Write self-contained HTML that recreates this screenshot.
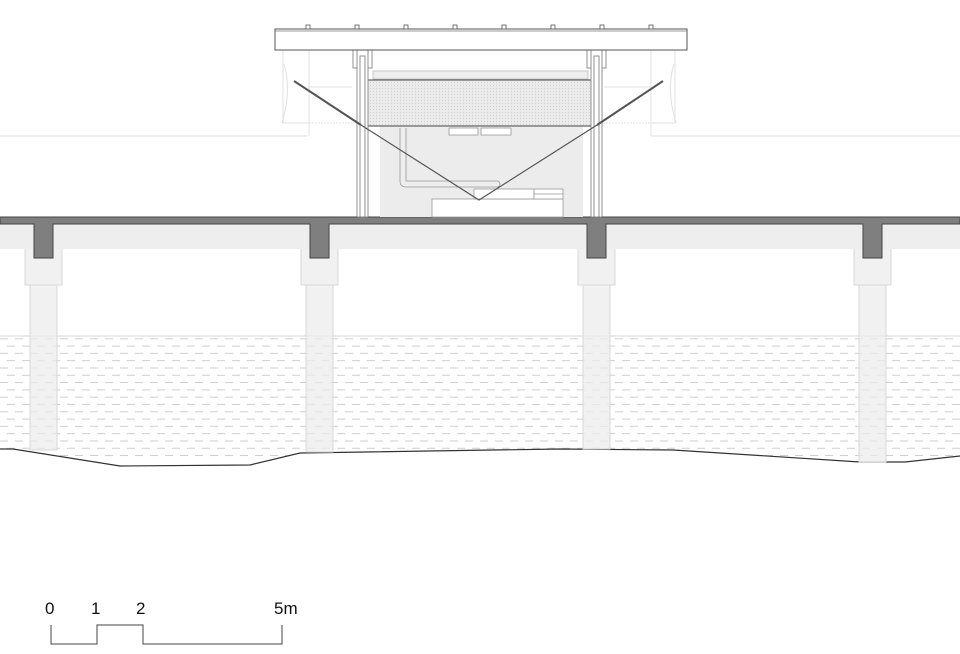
<!DOCTYPE html>
<html><head><style>html,body{margin:0;padding:0;background:#fff}svg{display:block}</style></head>
<body>
<svg width="960" height="654" viewBox="0 0 960 654" xmlns="http://www.w3.org/2000/svg" font-family="Liberation Sans, sans-serif">
<defs>
<pattern id="dash" x="0" y="0" width="15" height="14.6" patternUnits="userSpaceOnUse">
<line x1="0" y1="3" x2="8" y2="3" stroke="#c8c8c8" stroke-width="0.9"/>
<line x1="7" y1="10.3" x2="15" y2="10.3" stroke="#c8c8c8" stroke-width="0.9"/>
</pattern>
<pattern id="mesh" width="3" height="3" patternUnits="userSpaceOnUse">
<rect width="3" height="3" fill="#ececec"/><circle cx="1.5" cy="1.5" r="0.6" fill="#cfcfcf"/>
</pattern>
</defs>
<!-- horizon line -->
<line x1="0" y1="136" x2="307" y2="136" stroke="#ddd" stroke-width="1"/>
<line x1="651" y1="136" x2="960" y2="136" stroke="#ddd" stroke-width="1"/>
<!-- ghost shapes -->
<g stroke="#e0e0e0" fill="none" stroke-width="1">
<path d="M283 50 V123 H309 M309 50 V136 M284 64 Q292 90 282 123"/>
<line x1="282" y1="123" x2="360" y2="123" stroke-dasharray="2 1"/>
<path d="M675 50 V123 H651 M651 50 V136 M674 64 Q666 90 676 123"/>
<line x1="600" y1="123" x2="676" y2="123" stroke-dasharray="2 1"/>
<line x1="308" y1="87" x2="352" y2="87"/><line x1="604" y1="87" x2="651" y2="87"/>
</g>
<!-- water -->
<rect x="0" y="336" width="960" height="122" fill="url(#dash)"/>
<line x1="0" y1="336" x2="960" y2="336" stroke="#d5d5d5"/>
<!-- ground cover below ground line -->
<path d="M0 449 L13 449 L120 466 L250 465 L300 453 L560 449 L673 450 L860 462 L905 462 L960 456 L960 654 L0 654 Z" fill="#fff"/>
<path d="M0 449 L13 449 L120 466 L250 465 L300 453 L560 449 L673 450 L860 462 L905 462 L960 456" fill="none" stroke="#333" stroke-width="1.2"/>
<!-- piers -->
<g fill="#ececec" fill-opacity="0.75" stroke="#d8d8d8" stroke-width="1">
<rect x="30" y="285" width="27" height="165"/><rect x="25" y="248" width="37" height="37"/>
<rect x="306" y="285" width="27" height="167"/><rect x="301" y="248" width="37" height="37"/>
<rect x="583" y="285" width="27" height="164"/><rect x="578" y="248" width="37" height="37"/>
<rect x="859" y="285" width="27" height="177"/><rect x="854" y="248" width="37" height="37"/>
</g>
<!-- beam band -->
<rect x="0" y="224" width="960" height="25" fill="#eeeeee"/>
<!-- deck -->
<path d="M0 217 H960 V224 H882 V258 H863 V224 H606 V258 H587 V224 H329 V258 H310 V224 H53 V258 H34 V224 H0 Z" fill="#7f7f7f" stroke="#444" stroke-width="1"/>
<!-- pavilion interior -->
<rect x="380" y="126" width="203" height="91" fill="#ececec"/>
<g fill="#fff" stroke="#999" stroke-width="0.8">
<rect x="449" y="128" width="29" height="7"/><rect x="481" y="128" width="30" height="7"/>
<path d="M400 128 V181 Q400 187 406 187 H498 Q502 184 498 181 H406 V128" fill="#eee"/>
<rect x="432" y="199" width="131" height="18"/>
<rect x="474" y="189" width="60" height="10"/>
<rect x="534" y="189" width="29" height="10"/><line x1="534" y1="194" x2="563" y2="194"/>
</g>
<!-- light bar & mesh -->
<rect x="373" y="71" width="215" height="8" fill="#eee" stroke="#bbb" stroke-width="0.8"/>
<rect x="367" y="80" width="225" height="46" fill="url(#mesh)" stroke="#444" stroke-width="1"/>
<!-- columns -->
<g fill="#fff" stroke="#777" stroke-width="0.8">
<rect x="353" y="50" width="19" height="18"/><rect x="357" y="50" width="11" height="167"/>
<rect x="360" y="56" width="5" height="161" fill="none"/>
<rect x="587" y="50" width="19" height="18"/><rect x="591" y="50" width="11" height="167"/>
<rect x="594" y="56" width="5" height="161" fill="none"/>
</g>
<!-- roof -->
<rect x="275" y="29" width="412" height="21" fill="#fff" stroke="#555" stroke-width="1"/>
<line x1="275" y1="31" x2="687" y2="31" stroke="#777" stroke-width="0.7"/>
<g fill="#fff" stroke="#555" stroke-width="0.8">
<rect x="306" y="25" width="4" height="4"/><rect x="355" y="25" width="4" height="4"/><rect x="404" y="25" width="4" height="4"/><rect x="453" y="25" width="4" height="4"/><rect x="502" y="25" width="4" height="4"/><rect x="551" y="25" width="4" height="4"/><rect x="600" y="25" width="4" height="4"/><rect x="649" y="25" width="4" height="4"/>
</g>
<!-- cables -->
<g stroke="#555" fill="none">
<line x1="294" y1="81" x2="361" y2="125" stroke-width="2"/>
<line x1="663" y1="81" x2="597" y2="125" stroke-width="2"/>
<polyline points="361,125 479,200 597,125" stroke-width="1.2"/>
</g>
<!-- scale bar -->
<g font-size="17" fill="#111">
<text x="45" y="614">0</text><text x="91" y="614">1</text><text x="136" y="614">2</text><text x="274" y="614">5m</text>
</g>
<path d="M51 625 V644 H97 V625 H143 V644 H282 V625" fill="none" stroke="#444" stroke-width="1"/>
</svg>
</body></html>
